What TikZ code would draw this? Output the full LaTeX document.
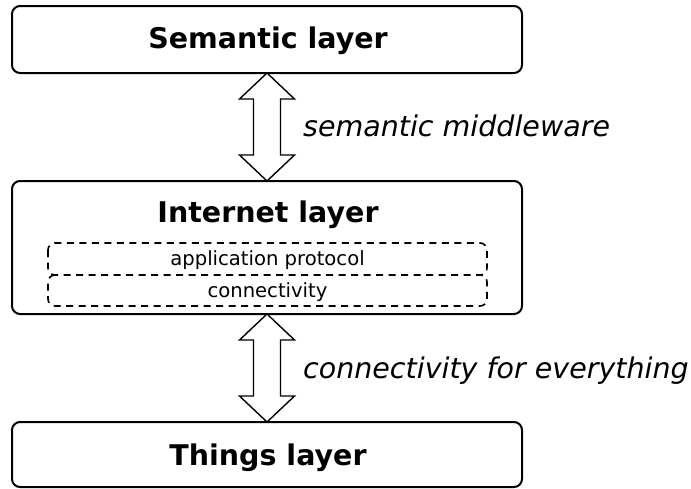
\documentclass[tikz,border=0pt]{standalone}
\usepackage{fontspec}
\setmainfont{DejaVu Sans}
\usetikzlibrary{calc}

% hollow two-headed arrow between two anchors (first above, second below)
\newcommand\twowayarrow[2]{%
  \draw[fatarrow] (#1) -- ++(27.5,26) -- ++(-14,0)
    -- ($(#2)+(13.5,-26)$) -- ++(14,0) -- (#2) -- ++(-27.5,-26) -- ++(14,0)
    -- ($(#1)+(-13.5,26)$) -- ++(-14,0) -- cycle;}

\begin{document}
\begin{tikzpicture}[x=1pt,y=-1pt,
  layerbox/.style={draw, line width=2pt, rounded corners=8pt,
    minimum width=510pt, inner sep=0pt, outer sep=0pt},
  layertitle/.style={anchor=base, inner sep=0pt,
    font=\fontsize{28.5}{34}\selectfont\bfseries},
  protobox/.style={minimum width=439pt, inner sep=0pt, outer sep=0pt,
    text height=14pt, text depth=1pt, font=\fontsize{19.6}{24}\selectfont},
  protoline/.style={line width=1.6pt, dash pattern=on 7pt off 5.5pt,
    rounded corners=7pt},
  fatarrow/.style={draw, line width=1.4pt, line join=miter, fill=white},
  sidelabel/.style={anchor=base west, inner sep=0pt,
    font=\fontsize{28.5}{34}\selectfont\itshape}]

\useasboundingbox (0,0) rectangle (691,488);

% the three layers
\node[layerbox, minimum height=67pt]  (sem) at (267,39.5) {};
\node[layerbox, minimum height=133pt] (int) at (267,247.5) {};
\node[layerbox, minimum height=65pt]  (thg) at (267,454.5) {};

\node[layertitle] (semt) at (268,48) {Semantic layer};
\node[layertitle] (intt) at (268,222) {Internet layer};
\node[layertitle] (thgt) at (268,465) {Things layer};

% protocol stack inside the Internet layer
\node[protobox, minimum height=32pt] (app)  at (267.5,259)   {application protocol};
\node[protobox, minimum height=31pt] (conn) at (267.5,290.5) {connectivity};
\draw[protoline] (app.north west) rectangle (app.south east);
% lower box shares its top edge with the box above
\draw[protoline] ($(conn.north west)+(7,0)$) -- (conn.north west)
  -- (conn.south west) -- (conn.south east) -- (conn.north east)
  -- ($(conn.north east)+(-7,0)$);

% links between layers
\twowayarrow{sem.south}{int.north}
\twowayarrow{int.south}{thg.north}

\node[sidelabel] (mw) at (303,136) {semantic middleware};
\node[sidelabel] (ce) at (303,378) {connectivity for everything};
\end{tikzpicture}
\end{document}
